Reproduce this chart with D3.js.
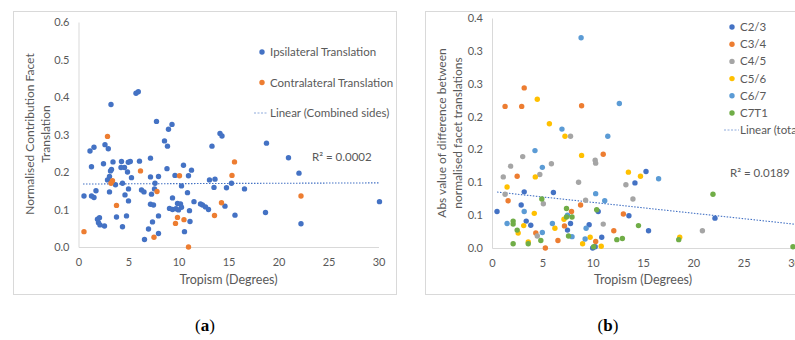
<!DOCTYPE html>
<html>
<head>
<meta charset="utf-8">
<script src="https://cdn.jsdelivr.net/npm/d3@7"></script>
<style>
  body { margin: 0; background: #fff; }
  text { font-family: Lato, "Open Sans", sans-serif; fill: #595959; }
</style>
</head>
<body>
<svg id="chart" width="795" height="340"></svg>
<script>
// ---- panel (a): tropism vs normalised contribution ----
const ipsilateral = [
  [5.75,0.41],[5.98,0.414],[3.25,0.38],[7.8,0.335],[9.35,0.327],[9.0,0.314],[2.65,0.273],[2.98,0.262],
  [1.55,0.266],[1.15,0.256],[8.6,0.283],[8.9,0.269],[7.2,0.237],[13.35,0.269],[14.15,0.303],[14.35,0.296],
  [18.8,0.277],[21.0,0.238],[22.05,0.197],[2.5,0.222],[3.45,0.227],[4.3,0.228],[4.98,0.226],[5.18,0.228],
  [6.1,0.229],[4.6,0.212],[4.25,0.212],[4.9,0.2],[1.3,0.214],[3.2,0.203],[3.3,0.207],[8.85,0.209],
  [10.5,0.218],[11.3,0.205],[3.1,0.188],[5.3,0.185],[7.2,0.187],[8.0,0.188],[9.65,0.191],[11.0,0.19],
  [2.9,0.179],[3.7,0.166],[4.4,0.17],[7.65,0.17],[7.6,0.155],[10.3,0.163],[13.1,0.179],[13.65,0.181],
  [13.55,0.159],[14.8,0.158],[15.3,0.17],[16.6,0.155],[1.75,0.15],[3.1,0.147],[5.0,0.155],[6.3,0.152],
  [6.55,0.147],[7.3,0.141],[0.55,0.136],[1.3,0.136],[1.55,0.132],[4.65,0.139],[5.0,0.123],[7.2,0.114],
  [7.5,0.112],[9.4,0.131],[9.9,0.116],[10.2,0.115],[10.3,0.106],[9.1,0.103],[9.4,0.1],[9.75,0.102],
  [10.0,0.099],[11.55,0.121],[12.2,0.115],[12.4,0.112],[12.7,0.107],[11.1,0.097],[13.0,0.1],[14.65,0.109],
  [3.8,0.08],[4.8,0.083],[8.0,0.083],[2.1,0.078],[1.9,0.074],[2.0,0.065],[2.15,0.059],[2.6,0.056],
  [4.4,0.054],[7.4,0.067],[11.15,0.068],[10.6,0.041],[7.0,0.048],[8.0,0.036],[6.6,0.02],[15.65,0.085],
  [18.7,0.092],[22.25,0.062],[30.1,0.121],[10.9,0.145]
];
const contralateral = [
  [0.55,0.041],[2.9,0.295],[3.4,0.177],[3.25,0.17],[3.8,0.111],[6.2,0.203],[7.85,0.148],[7.55,0.026],
  [9.9,0.079],[9.7,0.063],[10.55,0.073],[10.1,0.19],[11.0,0.0],[13.6,0.084],[14.3,0.118],[15.35,0.191],
  [15.6,0.227],[22.25,0.136]
];
const trendA = [[0.45,0.168],[30,0.171]];
const yTicksA = [0, 0.1, 0.2, 0.3, 0.4, 0.5, 0.6];
const xTicks = [0, 5, 10, 15, 20, 25, 30];

// ---- panel (b): tropism vs abs difference, per level ----
const levels = ["C2/3", "C3/4", "C4/5", "C5/6", "C6/7", "C7T1"];
const c23 = [[0.5,0.061],[3.2,0.094],[6.1,0.093],[2.9,0.072],[10.55,0.061],[3.4,0.045],[3.85,0.038],[7.8,0.041],
  [7.5,0.030],[9.65,0.039],[10.0,0.0],[10.25,0.002],[10.9,0.018],[15.3,0.128],[14.2,0.109],[13.6,0.054],
  [22.15,0.05],[15.55,0.029]];
const c34 = [[3.2,0.268],[1.3,0.237],[2.95,0.237],[8.9,0.238],[11.05,0.157],[2.5,0.12],[1.6,0.079],[8.8,0.072],
  [7.9,0.061],[7.2,0.037],[4.35,0.025],[6.55,0.0125],[5.3,0.0],[10.3,0.011],[12.1,0.029],[13.05,0.057]];
const c45 = [[7.8,0.187],[3.05,0.153],[1.85,0.137],[5.9,0.141],[10.25,0.147],[10.3,0.142],[1.12,0.119],[4.75,0.123],
  [8.6,0.11],[1.3,0.09],[5.1,0.074],[9.3,0.08],[11.05,0.04],[4.5,0.02],[13.3,0.106],[14.0,0.082],[20.9,0.029]];
const c56 = [[4.5,0.249],[5.7,0.208],[7.25,0.187],[8.9,0.155],[4.3,0.119],[1.5,0.102],[4.2,0.058],[7.15,0.048],
  [3.15,0.0375],[6.25,0.033],[2.6,0.025],[3.6,0.01],[9.0,0.007],[9.75,0.018],[10.85,0.003],[13.55,0.127],
  [14.75,0.12],[18.65,0.018]];
const c67 = [[8.85,0.352],[6.95,0.199],[11.5,0.187],[4.27,0.163],[5.0,0.135],[10.3,0.091],[11.2,0.079],[3.2,0.061],
  [7.5,0.055],[1.5,0.041],[6.0,0.041],[9.35,0.033],[7.95,0.019],[5.0,0.026],[9.25,0.015],[16.55,0.116],[12.65,0.242]];
const c7t1 = [[4.95,0.082],[7.4,0.066],[7.4,0.052],[7.95,0.052],[10.4,0.064],[2.1,0.045],[2.1,0.04],[7.6,0.02],
  [2.5,0.03],[4.85,0.0125],[2.1,0.007],[3.6,0.007],[10.1,0.002],[21.95,0.09],[14.55,0.0375],[12.4,0.014],
  [12.95,0.016],[18.55,0.014],[29.9,0.002]];
const trendB = [[0.5,0.0937],[30,0.040]];
const yTicksB = [0, 0.055, 0.11, 0.165, 0.22, 0.275, 0.33, 0.385];
const yLabelsB = ["0.0", "0.1", "0.1", "0.2", "0.2", "0.3", "0.3", "0.4"];

const svg = d3.select("#chart");
svg.append("rect").attr("width", 795).attr("height", 340).attr("fill", "#fff");

function axes(x, y, yTicks, yFmt) {
  const gx = svg.append("g").attr("transform", `translate(0,${y(0)})`)
    .call(d3.axisBottom(x).tickValues(xTicks).tickSize(0).tickPadding(11));
  const gy = svg.append("g").attr("transform", `translate(${x(0)},0)`)
    .call(d3.axisLeft(y).tickValues(yTicks).tickFormat(yFmt).tickSize(0).tickPadding(9));
  [gx, gy].forEach(g => {
    g.select(".domain").attr("stroke", "#d9d9d9");
    g.selectAll("text").attr("font-size", 11).attr("font-family", null).style("fill", "#595959");
  });
}

function dots(data, x, y, color) {
  svg.append("g").selectAll("circle").data(data).enter().append("circle")
    .attr("cx", d => x(d[0])).attr("cy", d => y(d[1])).attr("r", 2.7).attr("fill", color);
}

function trend(data, x, y, color) {
  svg.append("line")
    .attr("x1", x(data[0][0])).attr("y1", y(data[0][1]))
    .attr("x2", x(data[1][0])).attr("y2", y(data[1][1]))
    .attr("stroke", color).attr("stroke-width", 1.1).attr("stroke-dasharray", "1.5,1.5");
}

function yTitle(lines, cx, cy) {
  lines.forEach((t, i) => {
    svg.append("text").attr("transform", `translate(${cx + i * 16},${cy}) rotate(-90)`)
      .attr("text-anchor", "middle").attr("dy", "0.35em").attr("font-size", 12).text(t);
  });
}

// panel (a)
svg.append("rect").attr("x", 13.5).attr("y", 11.5).attr("width", 383).attr("height", 283)
  .attr("fill", "none").attr("stroke", "#d9d9d9");
const xA = d3.scaleLinear([0, 30], [78.5, 378.5]);
const yA = d3.scaleLinear([0, 0.6], [247, 22]);
axes(xA, yA, yTicksA, d3.format(".1f"));
trend(trendA, xA, yA, "#4472C4");
dots(ipsilateral, xA, yA, "#4472C4");
dots(contralateral, xA, yA, "#ED7D31");
yTitle(["Normalised Contribution Facet", "Translation"], 30, 134);
svg.append("text").attr("x", xA(15)).attr("y", 284).attr("text-anchor", "middle").attr("font-size", 12.5)
  .text("Tropism (Degrees)");
const legA = [["Ipsilateral Translation", "#4472C4"], ["Contralateral Translation", "#ED7D31"]];
legA.forEach((l, i) => {
  svg.append("circle").attr("cx", 262).attr("cy", 52 + i * 30.5).attr("r", 2.7).attr("fill", l[1]);
  svg.append("text").attr("x", 270).attr("y", 52 + i * 30.5).attr("dy", "0.35em").attr("font-size", 11.5).text(l[0]);
});
svg.append("line").attr("x1", 254).attr("x2", 268).attr("y1", 113).attr("y2", 113)
  .attr("stroke", "#8eaadb").attr("stroke-dasharray", "2,1.5");
svg.append("text").attr("x", 270).attr("y", 113).attr("dy", "0.35em").attr("font-size", 11.5)
  .text("Linear (Combined sides)");
svg.append("text").attr("x", 312).attr("y", 157).attr("dy", "0.35em").attr("font-size", 11.5).text("R² = 0.0002");

// panel (b)
svg.append("rect").attr("x", 425.5).attr("y", 11.5).attr("width", 380).attr("height", 283)
  .attr("fill", "none").attr("stroke", "#d9d9d9");
const xB = d3.scaleLinear([0, 30], [492, 794]);
const yB = d3.scaleLinear([0, 0.385], [248, 18]);
axes(xB, yB, yTicksB, (d, i) => yLabelsB[i]);
trend(trendB, xB, yB, "#4472C4");
const colorsB = ["#4472C4", "#ED7D31", "#A5A5A5", "#FFC000", "#5B9BD5", "#70AD47"];
[c23, c34, c45, c56, c67, c7t1].forEach((s, i) => dots(s, xB, yB, colorsB[i]));
yTitle(["Abs value of difference between", "normalised facet translations"], 442, 133);
svg.append("text").attr("x", xB(15)).attr("y", 284).attr("text-anchor", "middle").attr("font-size", 12.5)
  .text("Tropism (Degrees)");
levels.forEach((l, i) => {
  svg.append("circle").attr("cx", 732).attr("cy", 27 + i * 17.2).attr("r", 2.7).attr("fill", colorsB[i]);
  svg.append("text").attr("x", 740).attr("y", 27 + i * 17.2).attr("dy", "0.35em").attr("font-size", 11.5).text(l);
});
svg.append("line").attr("x1", 724).attr("x2", 739).attr("y1", 130).attr("y2", 130)
  .attr("stroke", "#8eaadb").attr("stroke-dasharray", "2,1.5");
svg.append("text").attr("x", 740).attr("y", 130).attr("dy", "0.35em").attr("font-size", 11.5).text("Linear (total)");
svg.append("text").attr("x", 730).attr("y", 173).attr("dy", "0.35em").attr("font-size", 11.5).text("R² = 0.0189");

// captions
[["a", 205], ["b", 608]].forEach(c => {
  const t = svg.append("text").attr("x", c[1]).attr("y", 331).attr("text-anchor", "middle")
    .attr("font-size", 17).style("font-family", "'Liberation Serif', serif").style("fill", "#000");
  t.append("tspan").text("(");
  t.append("tspan").attr("font-weight", "bold").text(c[0]);
  t.append("tspan").text(")");
});
</script>
</body>
</html>
